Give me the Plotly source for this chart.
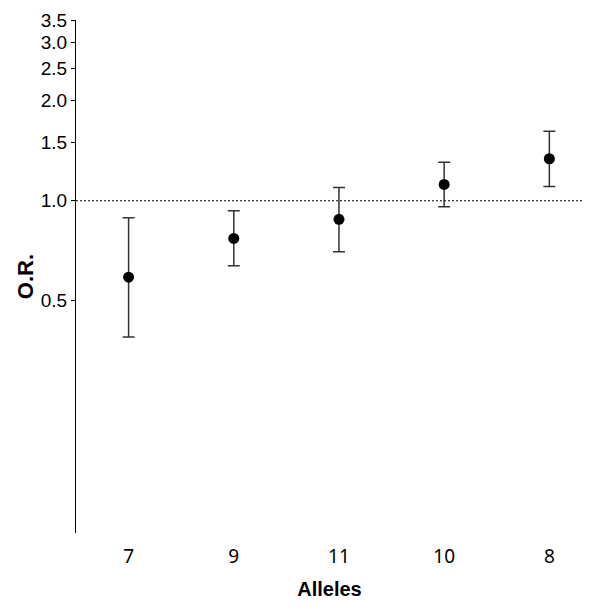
import plotly.graph_objects as go
import numpy as np

alleles = ["7", "9", "11", "10", "8"]
odds_ratio = [0.589, 0.770, 0.879, 1.120, 1.338]
ci_upper = [0.889, 0.933, 1.097, 1.305, 1.618]
ci_lower = [0.389, 0.637, 0.702, 0.959, 1.104]
y_tick_vals = [0.5, 1.0, 1.5, 2.0, 2.5, 3.0, 3.5]
y_tick_text = ["0.5", "1.0", "1.5", "2.0", "2.5", "3.0", "3.5"]

xpos = list(range(len(alleles)))
err_plus = [u - v for u, v in zip(ci_upper, odds_ratio)]
err_minus = [v - l for v, l in zip(odds_ratio, ci_lower)]

fig = go.Figure()
fig.add_trace(go.Scatter(
    x=xpos, y=odds_ratio, mode="markers",
    marker=dict(color="black", size=11),
    error_y=dict(type="data", symmetric=False, array=err_plus, arrayminus=err_minus,
                 color="#333333", thickness=1.5, width=6),
    showlegend=False,
))

fig.add_shape(type="line", xref="paper", yref="y", x0=0, x1=1, y0=1.0, y1=1.0,
              line=dict(color="black", width=1, dash="2px,2px"))

fig.update_layout(
    width=600, height=616,
    margin=dict(l=68, r=25, t=12, b=91),
    plot_bgcolor="white", paper_bgcolor="white",
    xaxis=dict(
        range=[-0.5, 4.32], tickvals=xpos, ticktext=alleles,
        showline=False, showgrid=False, zeroline=False, automargin=False,
        ticks="outside", ticklen=6, tickcolor="white",
        tickfont=dict(family="Noto Sans", size=19, color="black"),
        title=dict(text="<b>Alleles</b>", font=dict(family="Liberation Sans", size=20, color="black"), standoff=14),
    ),
    yaxis=dict(
        type="log", range=[np.log10(0.1), np.log10(3.5)],
        tickvals=y_tick_vals, ticktext=y_tick_text, automargin=False,
        showline=True, linecolor="black", linewidth=1,
        ticks="outside", ticklen=4, tickcolor="black",
        showgrid=False, zeroline=False,
        tickfont=dict(family="Liberation Sans", size=19, color="black"),
        title=dict(text="<b>O.R.</b>", font=dict(family="Liberation Sans", size=22, color="black"), standoff=1),
    ),
)

fig.write_html("out.html")
